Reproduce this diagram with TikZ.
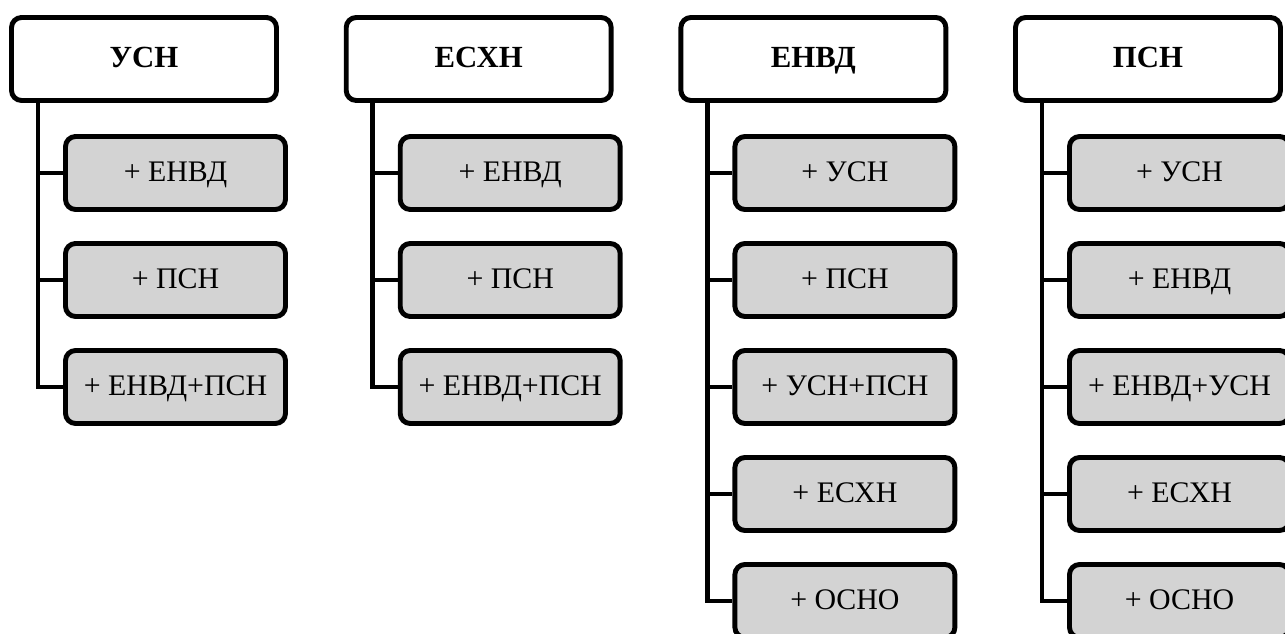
\documentclass[tikz,border=0pt]{standalone}
\usepackage{fontspec}
\setmainfont{Liberation Serif}
\definecolor{boxgray}{RGB}{211,211,211}
\begin{document}
\begin{tikzpicture}[x=0.02cm,y=-0.02cm,
  head/.style={draw,line width=2.8pt,rounded corners=0.2cm,fill=white,minimum width=5.3cm,minimum height=1.66cm,inner sep=0pt,text height=1.0em,text depth=0pt,font=\fontsize{17.5}{21}\selectfont\bfseries},
  item/.style={draw,line width=2.8pt,rounded corners=0.2cm,fill=boxgray,minimum width=4.4cm,minimum height=1.46cm,inner sep=0pt,text height=1.02em,text depth=0pt,font=\fontsize{17}{20}\selectfont},
  conn/.style={line width=2.8pt}]
\useasboundingbox (0,0) rectangle (1285,634);
\coordinate (l1) at (38,0);
\coordinate (l2) at (372.7,0);
\coordinate (l3) at (707.4,0);
\coordinate (l4) at (1042,0);
% column 1
\node[head] (h1) at (144,59) {УСН};
\node[item] (a1) at (175.5,173) {+ ЕНВД};
\node[item] (a2) at (175.5,280) {+ ПСН};
\node[item] (a3) at (175.5,387) {+ ЕНВД+ПСН};
% column 2
\node[head] (h2) at (478.7,59) {ЕСХН};
\node[item] (b1) at (510.2,173) {+ ЕНВД};
\node[item] (b2) at (510.2,280) {+ ПСН};
\node[item] (b3) at (510.2,387) {+ ЕНВД+ПСН};
% column 3
\node[head] (h3) at (813.4,59) {ЕНВД};
\node[item] (c1) at (844.9,173) {+ УСН};
\node[item] (c2) at (844.9,280) {+ ПСН};
\node[item] (c3) at (844.9,387) {+ УСН+ПСН};
\node[item] (c4) at (844.9,494) {+ ЕСХН};
\node[item] (c5) at (844.9,601) {+ ОСНО};
% column 4
\node[head] (h4) at (1148,59) {ПСН};
\node[item] (d1) at (1179.5,173) {+ УСН};
\node[item] (d2) at (1179.5,280) {+ ЕНВД};
\node[item] (d3) at (1179.5,387) {+ ЕНВД+УСН};
\node[item] (d4) at (1179.5,494) {+ ЕСХН};
\node[item] (d5) at (1179.5,601) {+ ОСНО};
% connectors
\foreach \t in {a1,a2,a3} \draw[conn] (h1.south -| l1) |- (\t.west);
\foreach \t in {b1,b2,b3} \draw[conn] (h2.south -| l2) |- (\t.west);
\foreach \t in {c1,c2,c3,c4,c5} \draw[conn] (h3.south -| l3) |- (\t.west);
\foreach \t in {d1,d2,d3,d4,d5} \draw[conn] (h4.south -| l4) |- (\t.west);
\end{tikzpicture}
\end{document}
